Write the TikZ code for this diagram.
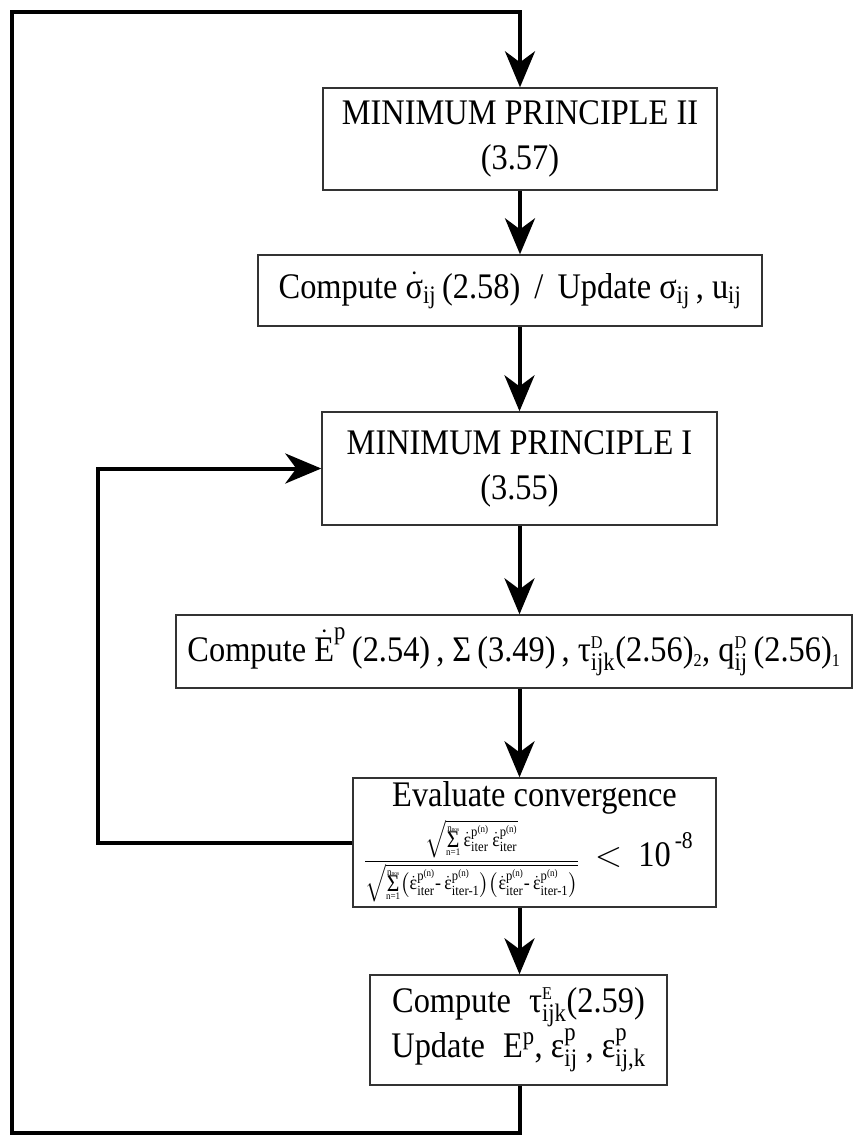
\RequirePackage{fix-cm}
\documentclass[tikz,border=0pt]{standalone}
\usepackage{amsmath}
\usepackage{fontspec}
\setmainfont{Liberation Serif}[FakeStretch=0.9]
\usetikzlibrary{arrows.meta}
\newcommand{\tx}[1]{\text{#1}}
\newcommand{\ed}[1]{\dot{\tx{ε}}^{\tx{p}^{\tx{(n)}}}_{\tx{#1}}}
\newcommand{\smm}{\mathop{\vcenter{\offinterlineskip\halign{\hfil##\hfil\cr
  \fontsize{10}{10}\selectfont n\raisebox{-0.5pt}{\fontsize{6}{6}\selectfont nos}\cr
  \noalign{\kern0.5pt}
  \fontsize{24}{24}\selectfont Σ\cr
  \noalign{\kern1pt}
  \fontsize{10}{10}\selectfont n=1\cr}}}}
\begin{document}
\begin{tikzpicture}[x=1pt,y=-1pt,
  box/.style={draw=black!80,line width=1.4pt,align=center,inner sep=0pt,
    font=\fontsize{36}{45}\selectfont},
  lbl/.style={align=center,inner sep=0pt,font=\fontsize{36}{45}\selectfont},
  conn/.style={line width=4pt,line join=miter},
  arr/.style={conn,-{Stealth[length=36pt,width=30pt,inset=11pt]}}]
\useasboundingbox (0,0) rectangle (852,1144);
\node[box,minimum width=394pt,minimum height=102pt] (b1) at (520,139)
  {MINIMUM PRINCIPLE II\\(3.57)};
\node[box,minimum width=504pt,minimum height=71pt] (b2) at (510,290.5)
  {Compute $\dot{\tx{σ}}_{\tx{ij}}$\,(2.58) \,/\, Update $\tx{σ}_{\tx{ij}}$\,, $\tx{u}_{\tx{ij}}$};
\node[box,minimum width=395pt,minimum height=113pt] (b3) at (519.5,468.5)
  {MINIMUM PRINCIPLE I\\(3.55)};
\node[box,minimum width=676pt,minimum height=73pt] (b4) at (514,651.5)
  {Compute $\dot{\tx{E}}^{\tx{p}}$\,(2.54)\,, $\tx{Σ}$\,(3.49)\,, $\tx{τ}^{\scriptscriptstyle\tx{D}}_{\tx{ijk}}$(2.56)$_{\scriptscriptstyle\tx{2}}$, $\tx{q}^{\scriptscriptstyle\tx{D}}_{\tx{ij}}$\,(2.56)$_{\scriptscriptstyle\tx{1}}$};
\node[box,minimum width=363pt,minimum height=129pt] (b5) at (534.5,842.5) {};
\node[lbl,anchor=base] (b5t) at (534.5,806) {Evaluate convergence};
\node[lbl,anchor=base west] (b5f) at (364,866)
  {\fontsize{20}{22}\selectfont$\dfrac{\sqrt{\smm\ed{iter}\,\ed{iter}}}
   {\sqrt{\smm\bigl(\ed{iter}\tx{-}\,\ed{iter-1}\bigr)\bigl(\ed{iter}\tx{-}\,\ed{iter-1}\bigr)}}$%
   \fontsize{36}{40}\selectfont$\;\,<\;\,$10\raisebox{18pt}{\fontsize{24}{26}\selectfont\,-8}};
\node[box,minimum width=297pt,minimum height=110pt] (b6) at (518.5,1030)
  {Compute \;$\tx{τ}^{\scriptscriptstyle\tx{E}}_{\tx{ijk}}$(2.59)\\
   Update \;E$^{\tx{p}}$, $\tx{ε}^{\tx{p}}_{\tx{ij}}$ , $\tx{ε}^{\tx{p}}_{\tx{ij,k}}$};
% main flow
\draw[arr] (b1.south) -- (b1.south |- b2.north);
\draw[arr] (b3.north |- b2.south) -- (b3.north);
\draw[arr] (b3.south) -- (b3.south |- b4.north);
\draw[arr] (b3.south |- b4.south) -- (b3.south |- b5.north);
\draw[arr] (b3.south |- b5.south) -- (b3.south |- b6.north);
% inner loop
\coordinate (il) at (98,0);
\draw[arr] (b5.west) -- (b5.west -| il) |- (b3.west);
% outer loop
\coordinate (ob) at (12,1133);
\coordinate (ot) at (12,12);
\draw[arr] (b3.south |- b6.south) -- (b3.south |- ob) -- (ob) -- (ot) -- (ot -| b1.north) -- (b1.north);
\end{tikzpicture}
\end{document}
